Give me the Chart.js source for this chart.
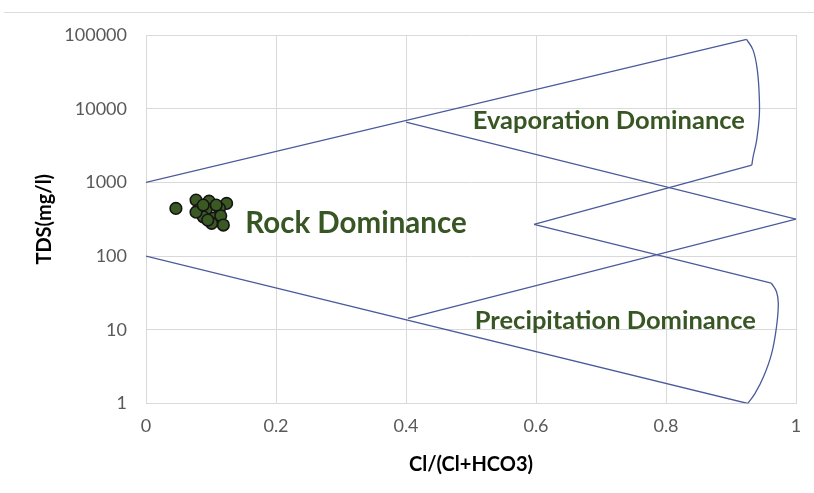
<!DOCTYPE html>
<html>
<head>
<meta charset="utf-8">
<script src="https://cdn.jsdelivr.net/npm/chart.js@4"></script>
<style>
  html, body { margin: 0; padding: 0; background: #ffffff; }
  #wrap { position: relative; width: 814px; height: 493px; }
  #topline { position: absolute; left: 4px; right: 0; top: 12px; height: 0; border-top: 1px solid #dcdcdc; }
  canvas { position: absolute; left: 0; top: 0; }
</style>
</head>
<body>
<div id="wrap">
  <div id="topline"></div>
  <canvas id="c" width="814" height="493"></canvas>
</div>
<script>
// ---- Data ----
const xTickLabels = ['0', '0.2', '0.4', '0.6', '0.8', '1'];
const xTickValues = [0, 0.2, 0.4, 0.6, 0.8, 1];
const yTickValues = [1, 10, 100, 1000, 10000, 100000];
const yTickLabels = ['1', '10', '100', '1000', '10000', '100000'];

// Sample points: Cl/(Cl+HCO3) and TDS (mg/l)
const sampleRatio = [0.046, 0.077, 0.097, 0.124, 0.080, 0.093, 0.113, 0.088, 0.104, 0.115, 0.101, 0.119, 0.077, 0.095, 0.108, 0.088];
const sampleTDS   = [444,   575,   557,   519,   421,   434,   444,   341,   325,   352,   278,   264,   395,   308,   492,   492];

// Gibbs boundary lines [ratio, TDS]
const upperOuter   = [[0, 1000], [0.924, 87100]];
const evapCurve    = [[0.924, 87100], [0.934, 62400], [0.9405, 33400], [0.9435, 14500], [0.9435, 7760], [0.9395, 3750], [0.934, 2220], [0.932, 1720]];
const evapLower    = [[0.932, 1720], [0.597, 270]];
const precipUpper  = [[0.597, 270], [0.962, 43]];
const precipCurve  = [[0.962, 43], [0.970, 32.8], [0.9728, 22.8], [0.970, 11], [0.9626, 4.8], [0.95, 2.3], [0.937, 1.37], [0.9257, 1.0]];
const lowerOuter   = [[0, 100], [0.9257, 1.0]];
const innerDown    = [[0.4, 6580], [1, 318]];
const innerUp      = [[1, 318], [0.403, 14.3]];

const regionLabels = ['Evaporation Dominance', 'Rock Dominance', 'Precipitation Dominance'];

// ---- Presentation ----
const labelAnchors = [[0.712, 6790], [0.323, 281], [0.722, 13.1]];
const labelSizes = [25.5, 29.5, 25.5];
const lineColor = '#4a5a9a';
const greenText = '#375623';

function toPts(arr) { return arr.map(p => ({ x: p[0], y: p[1] })); }
function boundary(arr, curved) {
  return {
    type: 'line',
    data: toPts(arr),
    borderColor: lineColor,
    borderWidth: 1.3,
    pointRadius: 0,
    fill: false,
    tension: curved ? 0.4 : 0,
    showLine: true
  };
}

const labelPlugin = {
  id: 'regionLabels',
  afterDatasetsDraw(chart) {
    const ctx = chart.ctx;
    const xs = chart.scales.x, ys = chart.scales.y;
    ctx.save();
    ctx.fillStyle = greenText;
    ctx.textAlign = 'center';
    ctx.textBaseline = 'middle';
    regionLabels.forEach((t, i) => {
      ctx.font = 'bold ' + labelSizes[i] + 'px Lato';
      ctx.fillText(t, xs.getPixelForValue(labelAnchors[i][0]), ys.getPixelForValue(labelAnchors[i][1]));
    });
    ctx.restore();
  }
};

const gridColor = '#d9d9d9';

new Chart(document.getElementById('c'), {
  type: 'scatter',
  data: {
    datasets: [
      boundary(upperOuter, false),
      boundary(evapCurve, true),
      boundary(evapLower, false),
      boundary(precipUpper, false),
      boundary(precipCurve, true),
      boundary(lowerOuter, false),
      boundary(innerDown, false),
      boundary(innerUp, false),
      {
        type: 'scatter',
        data: sampleRatio.map((r, i) => ({ x: r, y: sampleTDS[i] })),
        backgroundColor: '#3b5a23',
        borderColor: '#141414',
        borderWidth: 1.6,
        pointRadius: 5.8,
        pointHoverRadius: 5.8
      }
    ]
  },
  options: {
    responsive: false,
    animation: false,
    events: [],
    layout: { padding: { top: 35, right: 18, left: 0, bottom: 0 } },
    plugins: { legend: { display: false }, tooltip: { enabled: false } },
    scales: {
      x: {
        type: 'linear',
        min: 0, max: 1,
        afterFit: s => { s.height = 89.5; },
        afterBuildTicks: s => { s.ticks = xTickValues.map(v => ({ value: v })); },
        ticks: {
          color: '#595959',
          font: { family: 'Lato', size: 18 },
          padding: 12,
          callback: (v) => { const i = xTickValues.findIndex(t => Math.abs(t - v) < 1e-9); return i >= 0 ? xTickLabels[i] : ''; }
        },
        grid: { color: gridColor, lineWidth: 1, drawTicks: false },
        border: { color: gridColor, width: 1 },
        title: {
          display: true,
          text: 'Cl/(Cl+HCO3)',
          color: '#000000',
          font: { family: 'Lato', size: 20, weight: 'bold' },
          padding: { top: 0, bottom: 16 }
        }
      },
      y: {
        type: 'logarithmic',
        min: 1, max: 100000,
        afterFit: s => { s.width = 146; },
        afterBuildTicks: s => { s.ticks = yTickValues.map(v => ({ value: v })); },
        ticks: {
          color: '#595959',
          font: { family: 'Lato', size: 18 },
          padding: 19,
          callback: (v) => { const i = yTickValues.indexOf(v); return i >= 0 ? yTickLabels[i] : ''; }
        },
        grid: { color: gridColor, lineWidth: 1, drawTicks: false },
        border: { color: gridColor, width: 1 },
        title: {
          display: true,
          text: 'TDS(mg/l)',
          color: '#000000',
          font: { family: 'Lato', size: 20, weight: 'bold' },
          padding: { top: 33, bottom: 0 }
        }
      }
    }
  },
  plugins: [labelPlugin]
});
</script>
</body>
</html>
